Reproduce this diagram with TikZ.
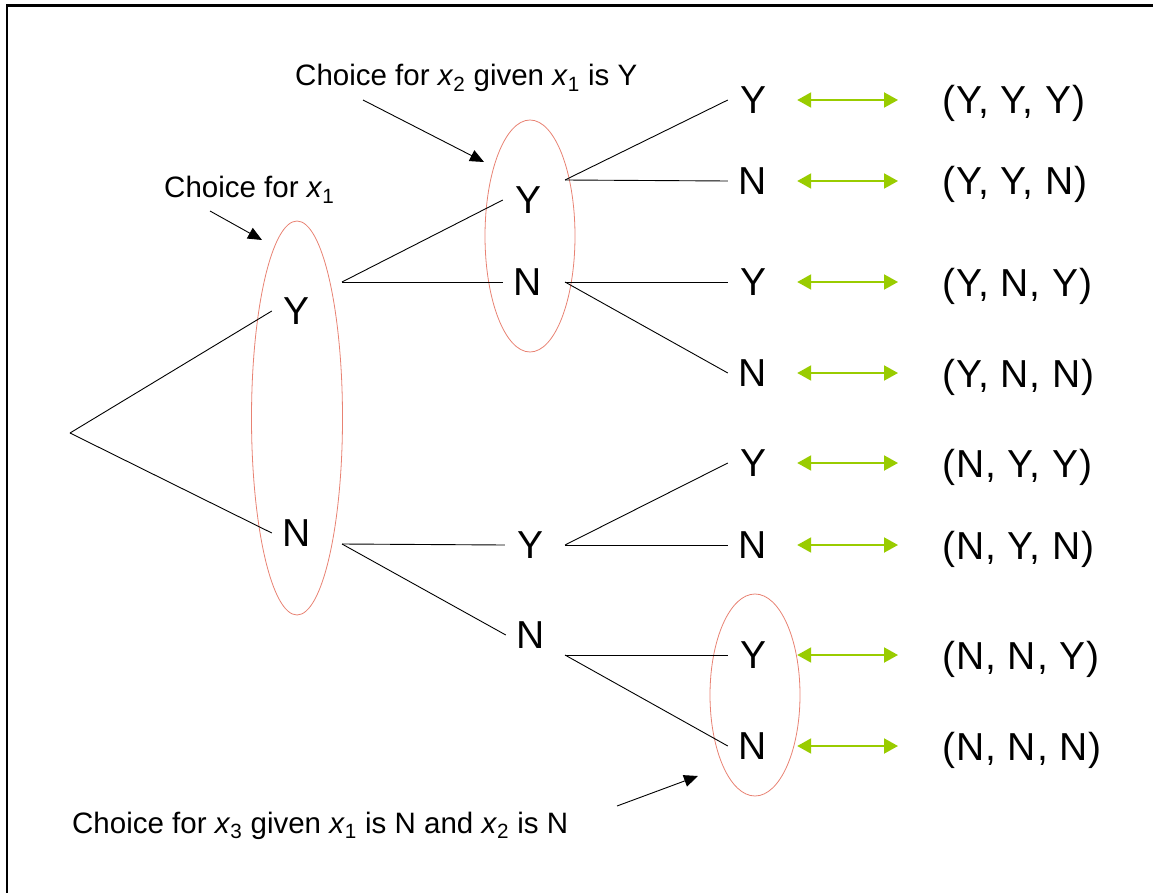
\documentclass[tikz,border=0pt]{standalone}
\usepackage{fontspec}
\setmainfont{Liberation Sans}
\newfontfamily\tuplefont[LetterSpace=2.5]{Liberation Sans}
\usepackage{tikz}
\usetikzlibrary{arrows.meta}

\definecolor{ringred}{RGB}{232,130,115}
\definecolor{pairgreen}{RGB}{153,204,0}
\newcommand{\xvar}[1]{\textit{x}\textsubscript{#1}}

\begin{document}
\begin{tikzpicture}[x=1pt, y=-1pt,
    choice/.style={font=\fontsize{39}{41}\selectfont, inner sep=0pt, minimum width=50pt, minimum height=30pt},
    tuple/.style={font=\tuplefont\fontsize{39}{41}\selectfont, inner sep=0pt, text height=28pt, text depth=0pt, anchor=west},
    note/.style={font=\fontsize{29.5}{32}\selectfont, inner sep=0pt, anchor=base west},
    branch/.style={line width=0.9pt},
    ring/.style={draw=ringred, line width=0.8pt},
    pair/.style={draw=pairgreen, line width=2pt, {Triangle[length=14pt,width=15pt]}-{Triangle[length=14pt,width=15pt]}, shorten <=19pt, shorten >=44pt},
    pointer/.style={line width=0.9pt, -{Triangle[length=14pt,width=12pt]}}]
    \useasboundingbox (0,0) rectangle (1153,893);
    \draw [line width=2.5pt] (7,893) -- (7,5.5) -- (1153,5.5);

    % Rings round the choices
    \draw [ring] (297,418) ellipse [x radius=45.5pt, y radius=197pt];
    \draw [ring] (530,236) ellipse [x radius=45pt, y radius=116pt];
    \draw [ring] (755,695) ellipse [x radius=45pt, y radius=101pt];

    % Nodes {root, y, n, yy, yn, etc}
    \coordinate (root) at (70,433);
    \node [choice] (y)   at (297,311) {Y};
    \node [choice] (n)   at (297,533) {N};
    \node [choice] (yy)  at (528,200) {Y};
    \node [choice] (yn)  at (528,282) {N};
    \node [choice] (ny)  at (530,545) {Y};
    \node [choice] (nn)  at (531,635) {N};
    \node [choice] (yyy) at (753,100) {Y};
    \node [choice] (yyn) at (753,181) {N};
    \node [choice] (yny) at (753,282) {Y};
    \node [choice] (ynn) at (753,373) {N};
    \node [choice] (nyy) at (753,463) {Y};
    \node [choice] (nyn) at (753,545) {N};
    \node [choice] (nny) at (753,655) {Y};
    \node [choice] (nnn) at (753,746) {N};

    % Branch points
    \coordinate (yb)  at (342,282);
    \coordinate (nb)  at (342,544);
    \coordinate (yyb) at (565,180);
    \coordinate (ynb) at (565,282);
    \coordinate (nyb) at (565,545);
    \coordinate (nnb) at (565,655);

    % Tuples {t1, t2, etc}
    \node [tuple] (t1) at (942,100) {(Y, Y, Y)};
    \node [tuple] (t2) at (942,181) {(Y, Y, N)};
    \node [tuple] (t3) at (942,282) {(Y, N, Y)};
    \node [tuple] (t4) at (942,373) {(Y, N, N)};
    \node [tuple] (t5) at (942,463) {(N, Y, Y)};
    \node [tuple] (t6) at (942,545) {(N, Y, N)};
    \node [tuple] (t7) at (942,655) {(N, N, Y)};
    \node [tuple] (t8) at (942,746) {(N, N, N)};

    % Notes
    \node [note] (x1note) at (164,198) {Choice for \xvar{1}};
    \node [note] (x2note) at (295,86)  {Choice for \xvar{2} given \xvar{1} is Y};
    \node [note] (x3note) at (72,833)  {Choice for \xvar{3} given \xvar{1} is N and \xvar{2} is N};
    \coordinate (x1from) at (210,211);
    \coordinate (x1to)   at (262,240);
    \coordinate (x2from) at (363,100);
    \coordinate (x2to)   at (484,162);
    \coordinate (x3from) at (617,806);
    \coordinate (x3to)   at (698,776);

    % Paths
    \draw [branch] (root) -- (y.west);
    \draw [branch] (root) -- (n.west);
    \draw [branch] (yb)   -- (yy.west);
    \draw [branch] (yb)   -- (yn.west);
    \draw [branch] (nb)   -- (ny.west);
    \draw [branch] (nb)   -- (nn.west);
    \draw [branch] (yyb)  -- (yyy.west);
    \draw [branch] (yyb)  -- (yyn.west);
    \draw [branch] (ynb)  -- (yny.west);
    \draw [branch] (ynb)  -- (ynn.west);
    \draw [branch] (nyb)  -- (nyy.west);
    \draw [branch] (nyb)  -- (nyn.west);
    \draw [branch] (nnb)  -- (nny.west);
    \draw [branch] (nnb)  -- (nnn.west);

    \draw [pair] (yyy) -- (t1);
    \draw [pair] (yyn) -- (t2);
    \draw [pair] (yny) -- (t3);
    \draw [pair] (ynn) -- (t4);
    \draw [pair] (nyy) -- (t5);
    \draw [pair] (nyn) -- (t6);
    \draw [pair] (nny) -- (t7);
    \draw [pair] (nnn) -- (t8);

    \draw [pointer] (x1from) -- (x1to);
    \draw [pointer] (x2from) -- (x2to);
    \draw [pointer] (x3from) -- (x3to);

\end{tikzpicture}
\end{document}
